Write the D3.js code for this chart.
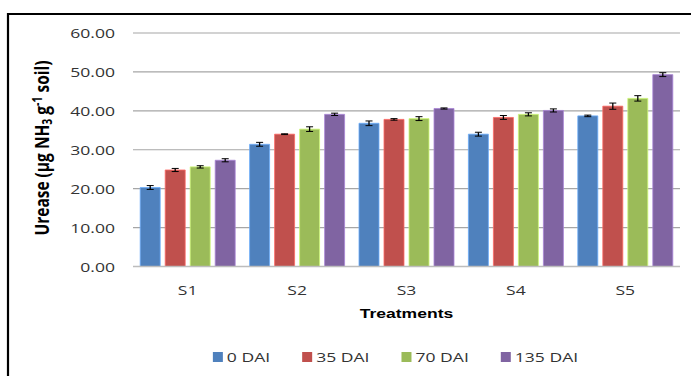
<!DOCTYPE html>
<html>
<head>
<meta charset="utf-8">
<script src="https://cdn.jsdelivr.net/npm/d3@7"></script>
<style>
  html, body { margin: 0; padding: 0; background: #fff; }
  svg { display: block; }
</style>
</head>
<body>
<svg id="chart" width="691" height="376"></svg>
<script>
// ---- data ----
const categories = ["S1", "S2", "S3", "S4", "S5"];
const seriesNames = ["0 DAI", "35 DAI", "70 DAI", "135 DAI"];
const dai0   = [20.3, 31.4, 36.8, 34.0, 38.7];
const dai35  = [24.8, 34.0, 37.8, 38.3, 41.2];
const dai70  = [25.6, 35.3, 38.0, 39.1, 43.2];
const dai135 = [27.3, 39.1, 40.6, 40.1, 49.3];
const err0   = [0.5, 0.5, 0.6, 0.5, 0.2];
const err35  = [0.4, 0.1, 0.2, 0.5, 0.8];
const err70  = [0.3, 0.6, 0.5, 0.4, 0.7];
const err135 = [0.4, 0.3, 0.15, 0.4, 0.5];
const yTicks = [0, 10, 20, 30, 40, 50, 60];
const colors = ["#4F81BD", "#C0504D", "#9BBB59", "#8064A2"];

const seriesValues = [dai0, dai35, dai70, dai135];
const seriesErrors = [err0, err35, err70, err135];

// ---- layout (chart is horizontally stretched like the reference) ----
const SX = 1.3;
const W = 691 / SX, H = 376;
const plot = { left: 133 / SX, right: 680 / SX, top: 33, bottom: 266.5 };

const svg = d3.select("#chart");
const g = svg.append("g").attr("transform", `scale(${SX},1)`);

// border (open on right/bottom)
g.append("path")
  .attr("d", `M${8 / SX},${H} L${8 / SX},14 L${W},14`)
  .attr("fill", "none").attr("stroke", "#000").attr("stroke-width", 2.2)
  .attr("vector-effect", "non-scaling-stroke");

const y = d3.scaleLinear().domain([0, 60]).range([plot.bottom, plot.top]);
const x0 = d3.scaleBand().domain(categories).range([plot.left, plot.right]).padding(0);
const x1 = d3.scaleBand().domain(seriesNames).range([0, x0.bandwidth()])
  .paddingInner(0.2).paddingOuter(0.288);

// gridlines
g.append("g").selectAll("line").data(yTicks.filter(t => t > 0)).join("line")
  .attr("x1", plot.left).attr("x2", plot.right)
  .attr("y1", d => y(d)).attr("y2", d => y(d))
  .attr("stroke", "#a6a6a6").attr("stroke-width", 1.2);

// y axis labels
const yAxis = d3.axisLeft(y).tickValues(yTicks).tickFormat(d3.format(".2f")).tickSize(0).tickPadding(0);
const yg = g.append("g").attr("transform", `translate(${115 / SX},0)`).call(yAxis);
yg.select(".domain").remove();
yg.selectAll("text")
  .attr("font-family", "'Open Sans', sans-serif").attr("font-size", 13.5)
  .attr("fill", "#333").attr("dy", "0.36em");

// bars
const rows = [];
categories.forEach((c, i) => {
  seriesNames.forEach((s, j) => {
    rows.push({ cat: c, key: s, v: seriesValues[j][i], e: seriesErrors[j][i], color: colors[j] });
  });
});

g.append("g").selectAll("rect").data(rows).join("rect")
  .attr("x", d => x0(d.cat) + x1(d.key))
  .attr("width", x1.bandwidth())
  .attr("y", d => y(d.v))
  .attr("height", d => y(0) - y(d.v))
  .attr("fill", d => d.color)
  .attr("stroke", d => d3.color(d.color).brighter(0.8))
  .attr("stroke-width", 0.8)
  .attr("vector-effect", "non-scaling-stroke");

// x axis baseline
g.append("line")
  .attr("x1", plot.left).attr("x2", plot.right)
  .attr("y1", y(0)).attr("y2", y(0))
  .attr("stroke", "#bdbdbd").attr("stroke-width", 1.5);

// error bars
const capHalf = 3.5 / SX;
const eg = g.append("g").attr("stroke", "#000").attr("stroke-width", 1)
  .attr("vector-effect", "non-scaling-stroke");
rows.forEach(d => {
  const cx = x0(d.cat) + x1(d.key) + x1.bandwidth() / 2;
  const yt = y(d.v + d.e), yb = y(d.v - d.e);
  eg.append("line").attr("x1", cx).attr("x2", cx).attr("y1", yt).attr("y2", yb);
  eg.append("line").attr("x1", cx - capHalf).attr("x2", cx + capHalf).attr("y1", yt).attr("y2", yt);
  eg.append("line").attr("x1", cx - capHalf).attr("x2", cx + capHalf).attr("y1", yb).attr("y2", yb);
});

// x category labels
const xAxis = d3.axisBottom(x0).tickSize(0).tickPadding(0);
const xg = g.append("g").attr("transform", `translate(0,${295})`).call(xAxis);
xg.select(".domain").remove();
xg.selectAll("text")
  .attr("font-family", "'Open Sans', sans-serif").attr("font-size", 13.5)
  .attr("fill", "#333").attr("dy", 0).attr("y", 0);

// x axis title
g.append("text")
  .attr("x", (plot.left + plot.right) / 2).attr("y", 318)
  .attr("text-anchor", "middle")
  .attr("font-family", "'Liberation Sans', Arial, sans-serif").attr("font-weight", "bold")
  .attr("font-size", 13.5).attr("fill", "#000")
  .text("Treatments");

// y axis title
const yt = g.append("text")
  .attr("transform", `translate(${48.5 / SX},148) rotate(-90)`)
  .attr("text-anchor", "middle")
  .attr("font-family", "'Open Sans', sans-serif").attr("font-weight", "bold")
  .attr("font-size", 15.5).attr("fill", "#000");
yt.append("tspan").text("Urease (µg NH");
yt.append("tspan").attr("font-size", 10.5).attr("dy", 3).text("3");
yt.append("tspan").attr("dy", -3).text(" g");
yt.append("tspan").attr("font-size", 10.5).attr("dy", -5).text("-1");
yt.append("tspan").attr("dy", 5).text(" soil)");

// legend
const legend = g.append("g");
const sq = 10 / SX, gapText = 4 / SX, gapItem = 32 / SX;
let cursor = 0;
seriesNames.forEach((name, i) => {
  const it = legend.append("g");
  it.append("rect").attr("x", 0).attr("y", 352).attr("width", sq).attr("height", 10).attr("fill", colors[i]);
  const t = it.append("text").attr("x", sq + gapText).attr("y", 362.5)
    .attr("font-family", "'Open Sans', sans-serif").attr("font-size", 13.5)
    .attr("fill", "#333").text(name);
  const w = sq + gapText + t.node().getComputedTextLength();
  it.attr("transform", `translate(${cursor},0)`);
  cursor += w + gapItem;
});
const totalW = cursor - gapItem;
legend.attr("transform", `translate(${395.5 / SX - totalW / 2},0)`);
</script>
</body>
</html>
